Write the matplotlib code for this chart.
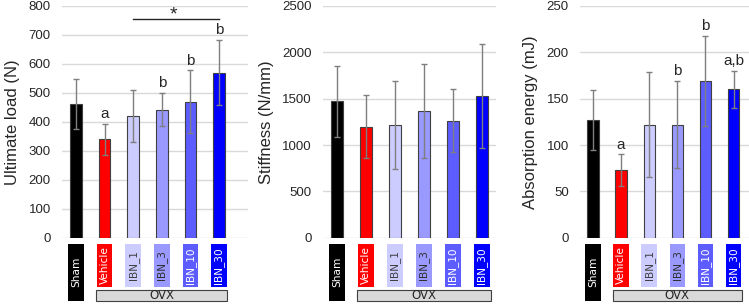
import matplotlib
matplotlib.use("Agg")
import matplotlib.pyplot as plt
from matplotlib.patches import Rectangle
from matplotlib import transforms

plt.rcParams['font.family'] = ['Liberation Sans', 'DejaVu Sans']

groups = ["Sham", "Vehicle", "IBN_1", "IBN_3", "IBN_10", "IBN_30"]
colors = ["#000000", "#FF0000", "#CCCCFF", "#9999FF", "#5C5CFF", "#0000FF"]
text_colors = ["white", "white", "#404040", "#303030", "white", "white"]

load_mean = [462, 340, 420, 442, 470, 570]
load_err = [86, 53, 89, 58, 108, 113]
load_letters = ["", "a", "", "b", "b", "b"]

stiff_mean = [1470, 1195, 1215, 1370, 1260, 1530]
stiff_err = [385, 340, 475, 505, 340, 560]
stiff_letters = ["", "", "", "", "", ""]

energy_mean = [127, 73, 122, 122, 169, 160]
energy_err = [32, 17, 57, 47, 49, 20]
energy_letters = ["", "a", "", "b", "b", "a,b"]

ylabels = ["Ultimate load (N)", "Stiffness (N/mm)", "Absorption energy (mJ)"]
ylims = [800, 2500, 250]
ysteps = [100, 500, 50]

W, H = 749, 304
fig = plt.figure(figsize=(W / 100, H / 100), dpi=100)

panels = [
    (62, 248, 76, 219, load_mean, load_err, load_letters),
    (323, 496, 337, 482, stiff_mean, stiff_err, stiff_letters),
    (580, 749, 593, 733.5, energy_mean, energy_err, energy_letters),
]

for i, (xl, xr, b0, b5, mean, err, letters) in enumerate(panels):
    top_px, bot_px = 6, 237.7
    ax = fig.add_axes([xl / W, 1 - bot_px / H, (xr - xl) / W, (bot_px - top_px) / H])
    sp = (b5 - b0) / 5
    ax.set_xlim((xl - b0) / sp, (xr - b0) / sp)
    ax.set_ylim(0, ylims[i])
    ax.set_yticks(range(0, ylims[i] + 1, ysteps[i]))
    ax.grid(axis='y', color='#D9D9D9', linewidth=1)
    ax.set_axisbelow(True)
    for s in ax.spines.values():
        s.set_visible(False)
    ax.tick_params(axis='y', length=0, labelsize=9.5, labelcolor='#262626', pad=8)
    ax.set_xticks([])
    ax.set_ylabel(ylabels[i], fontsize=12, color='#262626', labelpad=6)
    x = list(range(len(groups)))
    ax.bar(x, mean, width=0.4, color=colors, edgecolor='#404040', linewidth=0.8, zorder=2)
    ax.errorbar(x, mean, yerr=err, fmt='none', ecolor='#7F7F7F', elinewidth=1,
                capsize=2.5, capthick=1, zorder=3)
    for xi, m, e, lab in zip(x, mean, err, letters):
        if lab:
            ax.text(xi, m + e + ylims[i] * 0.012, lab, ha='center', va='bottom',
                    fontsize=11, color='#262626')

    # category boxes
    trans = transforms.blended_transform_factory(ax.transData, fig.transFigure)
    bw = 0.55
    box_top = 1 - 243.5 / H
    short_bot = 1 - 287 / H
    long_bot = 1 - 301 / H
    for xi, g, c, tc in zip(x, groups, colors, text_colors):
        bot = long_bot if xi == 0 else short_bot
        r = Rectangle((xi - bw / 2, bot), bw, box_top - bot, transform=trans,
                      facecolor=c, edgecolor='none', clip_on=False, zorder=1)
        fig.add_artist(r)
        fig.text(xi, (box_top + bot) / 2, g, transform=trans, rotation=90,
                 ha='center', va='center', color=tc, fontsize=7.6,
                 family=['DejaVu Sans'], zorder=5)
    ovx_l, ovx_r = 1 - bw / 2 - 0.02, 5 + bw / 2 + 0.02
    ovx_top = 1 - 289.5 / H
    r = Rectangle((ovx_l, long_bot), ovx_r - ovx_l, ovx_top - long_bot, transform=trans,
                  facecolor='#D9D9D9', edgecolor='#404040', linewidth=0.8, clip_on=False,
                  zorder=1)
    fig.add_artist(r)
    fig.text((ovx_l + ovx_r) / 2, (ovx_top + long_bot) / 2 - 0.002, "OVX", transform=trans,
             ha='center', va='center', fontsize=8.5, color='#262626',
             family=['DejaVu Sans'], zorder=5)

    if i == 0:
        ax.plot([2, 5], [756, 756], color='#262626', linewidth=1, clip_on=False)
        ax.text(3.4, 752, "*", ha='center', va='baseline', fontsize=14, color='#262626')

fig.savefig("out.png", dpi=100)
